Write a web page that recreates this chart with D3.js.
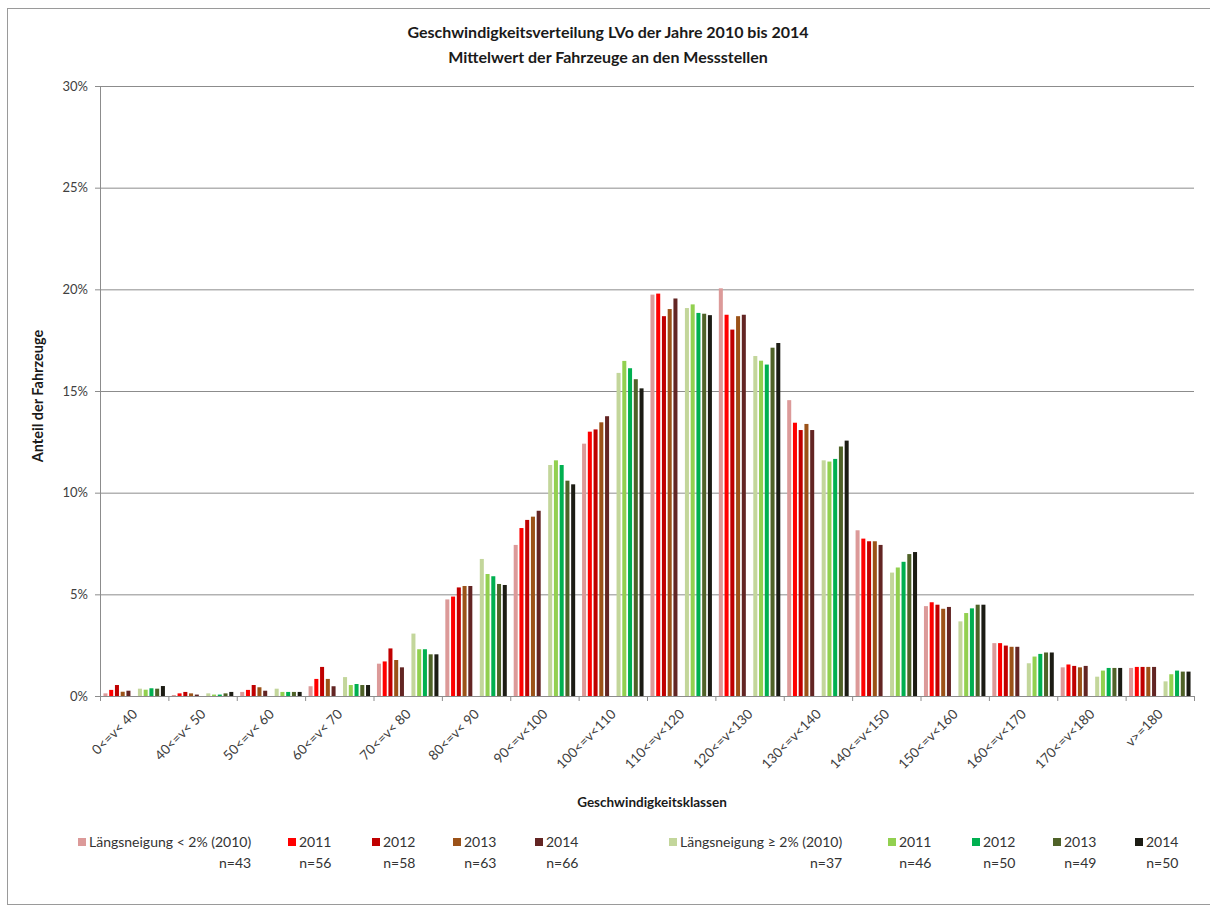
<!DOCTYPE html>
<html>
<head>
<meta charset="utf-8">
<script src="https://cdn.jsdelivr.net/npm/d3@7"></script>
<style>
  body { margin: 0; background: #fff; }
  svg { font-family: Lato, "Open Sans", sans-serif; }
</style>
</head>
<body>
<script>
var width = 1210,
    height = 908;

// speed classes
var classes = ["0<=v< 40", "40<=v< 50", "50<=v< 60", "60<=v< 70", "70<=v< 80", "80<=v< 90",
  "90<=v<100", "100<=v<110", "110<=v<120", "120<=v<130", "130<=v<140", "140<=v<150",
  "150<=v<160", "160<=v<170", "170<=v<180", "v>=180"];

// share of vehicles in %, gradient < 2%
var flat2010 = [0.13, 0.05, 0.20, 0.48, 1.59, 4.75, 7.43, 12.41, 19.74, 20.05, 14.55, 8.15, 4.42, 2.60, 1.41, 1.38];
var flat2011 = [0.30, 0.13, 0.30, 0.84, 1.70, 4.89, 8.26, 13.00, 19.79, 18.75, 13.44, 7.74, 4.61, 2.60, 1.55, 1.43];
var flat2012 = [0.54, 0.20, 0.54, 1.43, 2.34, 5.34, 8.66, 13.11, 18.68, 18.02, 13.08, 7.61, 4.49, 2.48, 1.48, 1.43];
var flat2013 = [0.21, 0.13, 0.43, 0.84, 1.77, 5.41, 8.82, 13.46, 19.03, 18.68, 13.38, 7.61, 4.29, 2.42, 1.41, 1.43];
var flat2014 = [0.26, 0.07, 0.26, 0.48, 1.41, 5.41, 9.11, 13.76, 19.55, 18.75, 13.08, 7.43, 4.38, 2.42, 1.48, 1.43];
// gradient >= 2%
var steep2010 = [0.36, 0.13, 0.36, 0.93, 3.07, 6.74, 11.36, 15.89, 19.08, 16.72, 11.59, 6.07, 3.67, 1.61, 0.95, 0.72];
var steep2011 = [0.31, 0.07, 0.20, 0.54, 2.30, 6.00, 11.59, 16.48, 19.26, 16.49, 11.53, 6.32, 4.08, 1.94, 1.25, 1.07];
var steep2012 = [0.38, 0.07, 0.20, 0.59, 2.30, 5.89, 11.36, 16.12, 18.84, 16.30, 11.66, 6.60, 4.31, 2.07, 1.38, 1.25];
var steep2013 = [0.36, 0.13, 0.20, 0.54, 2.05, 5.51, 10.59, 15.58, 18.80, 17.13, 12.27, 6.98, 4.49, 2.14, 1.38, 1.20];
var steep2014 = [0.49, 0.20, 0.20, 0.54, 2.05, 5.46, 10.41, 15.13, 18.73, 17.36, 12.56, 7.08, 4.49, 2.14, 1.38, 1.20];

var seriesNames = ["Längsneigung < 2% (2010)", "2011", "2012", "2013", "2014", "",
  "Längsneigung ≥ 2% (2010)", "2011", "2012", "2013", "2014"];
var seriesN = ["n=43", "n=56", "n=58", "n=63", "n=66", "", "n=37", "n=46", "n=50", "n=49", "n=50"];
var seriesValues = [flat2010, flat2011, flat2012, flat2013, flat2014, null,
  steep2010, steep2011, steep2012, steep2013, steep2014];
var colors = ["#dc9a99", "#ff0000", "#c00000", "#9b5218", "#632523", null,
  "#c3d69b", "#92d050", "#00b050", "#4f6228", "#1c1c14"];
var yTicks = [0, 5, 10, 15, 20, 25, 30];

var margin = {left: 100, right: 16, top: 86, bottom: 212};

var svg = d3.select("body").append("svg")
    .attr("width", width)
    .attr("height", height);

// chart frame
svg.append("rect")
    .attr("x", 7.5).attr("y", 8.5)
    .attr("width", 1215).attr("height", 896)
    .attr("fill", "#fff").attr("stroke", "#9a9a9a");

var x = d3.scaleBand()
    .domain(classes)
    .range([margin.left, width - margin.right]);

var xs = d3.scaleBand()
    .domain(d3.range(seriesValues.length))
    .range([0, x.bandwidth()])
    .paddingOuter(0.6)
    .paddingInner(0.3);

var y = d3.scaleLinear()
    .domain([0, 30])
    .range([height - margin.bottom, margin.top]);

// gridlines + y axis
var yAxis = svg.append("g")
    .attr("transform", "translate(" + margin.left + ",0)")
    .call(d3.axisLeft(y).tickValues(yTicks).tickSize(5).tickFormat(function(d) { return d + "%"; }));
yAxis.select(".domain").attr("stroke", "#8c8c8c");
yAxis.selectAll(".tick line").attr("stroke", "#8c8c8c");
yAxis.selectAll(".tick text")
    .attr("x", -12)
    .attr("fill", "#404040")
    .style("font-size", "13px")
    .style("font-family", "Lato, sans-serif");

svg.append("g").selectAll("line")
    .data(yTicks.slice(1))
  .enter().append("line")
    .attr("x1", margin.left).attr("x2", width - margin.right)
    .attr("y1", function(d) { return y(d) + 0.5; })
    .attr("y2", function(d) { return y(d) + 0.5; })
    .attr("stroke", "#8c8c8c");

// bars
var groups = svg.append("g").selectAll("g")
    .data(seriesValues.map(function(v, i) { return {i: i, v: v}; }).filter(function(s) { return s.v; }))
  .enter().append("g")
    .attr("fill", function(s) { return colors[s.i]; });

groups.selectAll("rect")
    .data(function(s) { return s.v.map(function(val, k) { return {s: s.i, k: k, val: val}; }); })
  .enter().append("rect")
    .attr("x", function(d) { return x(classes[d.k]) + xs(d.s); })
    .attr("width", xs.bandwidth())
    .attr("y", function(d) { return y(d.val); })
    .attr("height", function(d) { return y(0) - y(d.val); });

// x axis
var xAxis = svg.append("g")
    .attr("transform", "translate(0," + y(0) + ")")
    .call(d3.axisBottom(x).tickSize(0).tickSizeOuter(0));
xAxis.select(".domain").attr("stroke", "#8c8c8c");
xAxis.selectAll(".tick text")
    .attr("text-anchor", "end")
    .attr("fill", "#404040")
    .attr("y", 0).attr("dy", 0)
    .style("font-size", "13.5px")
    .style("font-family", "Lato, sans-serif")
    .attr("transform", "translate(4,19) rotate(-45)");

// category separator ticks
svg.append("g").selectAll("line")
    .data(d3.range(classes.length + 1))
  .enter().append("line")
    .attr("x1", function(k) { return margin.left + k * x.step() + 0.5; })
    .attr("x2", function(k) { return margin.left + k * x.step() + 0.5; })
    .attr("y1", y(0)).attr("y2", y(0) + 5)
    .attr("stroke", "#8c8c8c");

// titles
svg.append("text")
    .attr("x", 608).attr("y", 38)
    .attr("text-anchor", "middle")
    .style("font-weight", "bold").style("font-size", "16px")
    .attr("fill", "#1a1a1a")
    .text("Geschwindigkeitsverteilung LVo der Jahre 2010 bis 2014");
svg.append("text")
    .attr("x", 608).attr("y", 63)
    .attr("text-anchor", "middle")
    .style("font-weight", "bold").style("font-size", "16px")
    .attr("fill", "#1a1a1a")
    .text("Mittelwert der Fahrzeuge an den Messstellen");

svg.append("text")
    .attr("transform", "translate(43," + 396 + ") rotate(-90)")
    .attr("text-anchor", "middle")
    .style("font-weight", "bold").style("font-size", "14.5px")
    .attr("fill", "#1a1a1a")
    .text("Anteil der Fahrzeuge");

svg.append("text")
    .attr("x", 652).attr("y", 807)
    .attr("text-anchor", "middle")
    .style("font-weight", "bold").style("font-size", "13.5px")
    .attr("fill", "#1a1a1a")
    .text("Geschwindigkeitsklassen");

// legend
var legendX = [78, 288, 372, 453, 535, null, 669, 888, 972, 1053, 1135];
var legend = svg.append("g").selectAll("g")
    .data(d3.range(seriesNames.length).filter(function(i) { return colors[i]; }))
  .enter().append("g")
    .attr("transform", function(i) { return "translate(" + legendX[i] + ",0)"; });

legend.append("rect")
    .attr("x", 0).attr("y", 838)
    .attr("width", 8).attr("height", 8)
    .attr("fill", function(i) { return colors[i]; });

legend.append("text")
    .attr("x", 11).attr("y", 847)
    .style("font-size", "14px")
    .attr("fill", "#333")
    .text(function(i) { return seriesNames[i]; });

legend.append("text")
    .attr("x", function(i) { return 11 + this.parentNode.querySelector("text").getComputedTextLength(); })
    .attr("y", 868)
    .attr("text-anchor", "end")
    .style("font-size", "14px")
    .attr("fill", "#333")
    .text(function(i) { return seriesN[i]; });
</script>
</body>
</html>
